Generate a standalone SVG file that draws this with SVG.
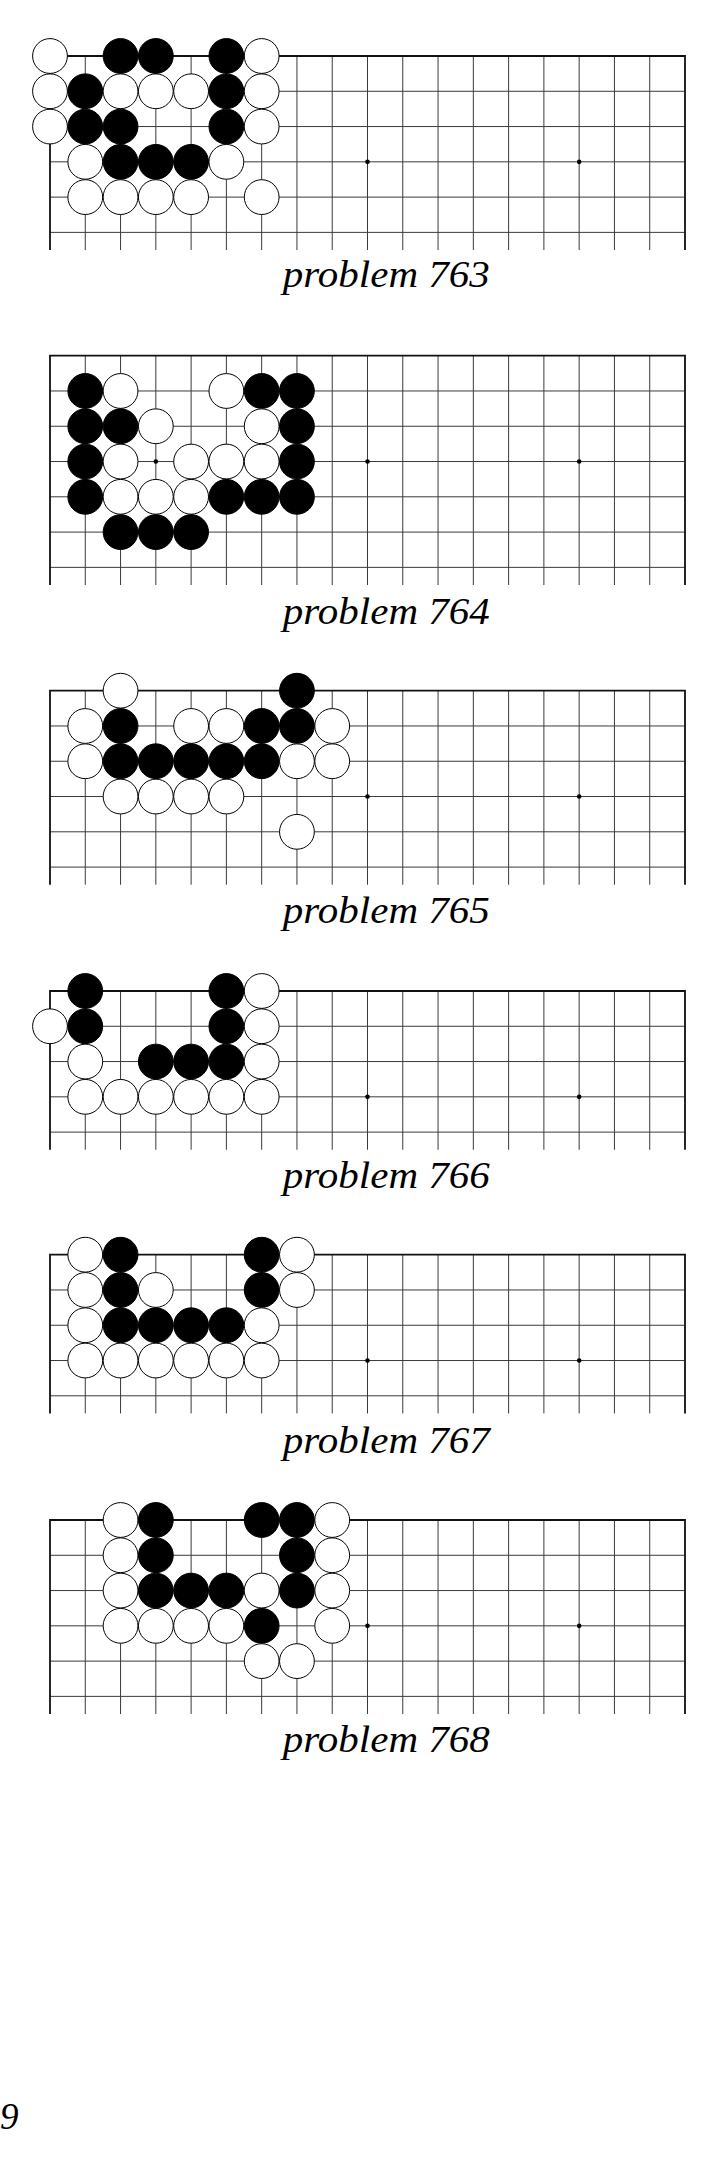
<svg xmlns="http://www.w3.org/2000/svg" xmlns:xlink="http://www.w3.org/1999/xlink" width="725" height="2181" viewBox="0 0 725 2181">
<style>
.gl{stroke:#3a3a3a;stroke-width:1;fill:none}
.ed{stroke:#111;stroke-width:1.8;fill:none}
.w{fill:#fff;stroke:#000;stroke-width:1}
.b{fill:#000;stroke:#000;stroke-width:1}
.h{fill:#000}
.cap{font-family:"Liberation Serif",serif;font-style:italic;font-size:37px;fill:#000}
.pg{font-family:"Liberation Serif",serif;font-style:italic;font-size:37px;fill:#000}
</style>
<defs>
<g id="vl">
<path d="M35.28 0V1M70.56 0V1M105.83 0V1M141.11 0V1M176.39 0V1M211.67 0V1M246.94 0V1M282.22 0V1M317.5 0V1M352.78 0V1M388.06 0V1M423.33 0V1M458.61 0V1M493.89 0V1M529.17 0V1M564.44 0V1M599.72 0V1" class="gl" vector-effect="non-scaling-stroke"/>
</g>
<g id="hoshi">
<circle class="h" cx="105.83" cy="105.83" r="2.3"/>
<circle class="h" cx="317.5" cy="105.83" r="2.3"/>
<circle class="h" cx="529.17" cy="105.83" r="2.3"/>
</g>
<g id="grid5">
<path class="gl" d="M0 35.28H635M0 70.56H635M0 105.83H635M0 141.11H635"/>
<use xlink:href="#vl" transform="scale(1,158.75)"/>
<path class="ed" d="M0 158.75V0H635V158.75"/>
<use xlink:href="#hoshi"/>
</g>
<g id="grid6">
<path class="gl" d="M0 35.28H635M0 70.56H635M0 105.83H635M0 141.11H635M0 176.39H635"/>
<use xlink:href="#vl" transform="scale(1,194.03)"/>
<path class="ed" d="M0 194.03V0H635V194.03"/>
<use xlink:href="#hoshi"/>
</g>
<g id="grid7">
<path class="gl" d="M0 35.28H635M0 70.56H635M0 105.83H635M0 141.11H635M0 176.39H635M0 211.67H635"/>
<use xlink:href="#vl" transform="scale(1,229.31)"/>
<path class="ed" d="M0 229.31V0H635V229.31"/>
<use xlink:href="#hoshi"/>
</g>
</defs>
<rect width="725" height="2181" fill="#fff"/>

<g id="problem763" transform="translate(50,56)">
<use xlink:href="#grid6"/>
<g id="stones763">
<circle class="w" cx="0" cy="0" r="17.4"/><circle class="b" cx="70.56" cy="0" r="17.4"/><circle class="b" cx="105.83" cy="0" r="17.4"/><circle class="b" cx="176.39" cy="0" r="17.4"/><circle class="w" cx="211.67" cy="0" r="17.4"/>
<circle class="w" cx="0" cy="35.28" r="17.4"/><circle class="b" cx="35.28" cy="35.28" r="17.4"/><circle class="w" cx="70.56" cy="35.28" r="17.4"/><circle class="w" cx="105.83" cy="35.28" r="17.4"/><circle class="w" cx="141.11" cy="35.28" r="17.4"/><circle class="b" cx="176.39" cy="35.28" r="17.4"/><circle class="w" cx="211.67" cy="35.28" r="17.4"/>
<circle class="w" cx="0" cy="70.56" r="17.4"/><circle class="b" cx="35.28" cy="70.56" r="17.4"/><circle class="b" cx="70.56" cy="70.56" r="17.4"/><circle class="b" cx="176.39" cy="70.56" r="17.4"/><circle class="w" cx="211.67" cy="70.56" r="17.4"/>
<circle class="w" cx="35.28" cy="105.83" r="17.4"/><circle class="b" cx="70.56" cy="105.83" r="17.4"/><circle class="b" cx="105.83" cy="105.83" r="17.4"/><circle class="b" cx="141.11" cy="105.83" r="17.4"/><circle class="w" cx="176.39" cy="105.83" r="17.4"/>
<circle class="w" cx="35.28" cy="141.11" r="17.4"/><circle class="w" cx="70.56" cy="141.11" r="17.4"/><circle class="w" cx="105.83" cy="141.11" r="17.4"/><circle class="w" cx="141.11" cy="141.11" r="17.4"/><circle class="w" cx="211.67" cy="141.11" r="17.4"/>
</g>
</g>
<text class="cap" x="386.3" y="287" text-anchor="middle" textLength="207" lengthAdjust="spacingAndGlyphs">problem 763</text>

<g id="problem764" transform="translate(50,355.7)">
<use xlink:href="#grid7"/>
<g id="stones764">
<circle class="b" cx="35.28" cy="35.28" r="17.4"/><circle class="w" cx="70.56" cy="35.28" r="17.4"/><circle class="w" cx="176.39" cy="35.28" r="17.4"/><circle class="b" cx="211.67" cy="35.28" r="17.4"/><circle class="b" cx="246.94" cy="35.28" r="17.4"/>
<circle class="b" cx="35.28" cy="70.56" r="17.4"/><circle class="b" cx="70.56" cy="70.56" r="17.4"/><circle class="w" cx="105.83" cy="70.56" r="17.4"/><circle class="w" cx="211.67" cy="70.56" r="17.4"/><circle class="b" cx="246.94" cy="70.56" r="17.4"/>
<circle class="b" cx="35.28" cy="105.83" r="17.4"/><circle class="w" cx="70.56" cy="105.83" r="17.4"/><circle class="w" cx="141.11" cy="105.83" r="17.4"/><circle class="w" cx="176.39" cy="105.83" r="17.4"/><circle class="w" cx="211.67" cy="105.83" r="17.4"/><circle class="b" cx="246.94" cy="105.83" r="17.4"/>
<circle class="b" cx="35.28" cy="141.11" r="17.4"/><circle class="w" cx="70.56" cy="141.11" r="17.4"/><circle class="w" cx="105.83" cy="141.11" r="17.4"/><circle class="w" cx="141.11" cy="141.11" r="17.4"/><circle class="b" cx="176.39" cy="141.11" r="17.4"/><circle class="b" cx="211.67" cy="141.11" r="17.4"/><circle class="b" cx="246.94" cy="141.11" r="17.4"/>
<circle class="b" cx="70.56" cy="176.39" r="17.4"/><circle class="b" cx="105.83" cy="176.39" r="17.4"/><circle class="b" cx="141.11" cy="176.39" r="17.4"/>
</g>
</g>
<text class="cap" x="386.3" y="624" text-anchor="middle" textLength="207" lengthAdjust="spacingAndGlyphs">problem 764</text>

<g id="problem765" transform="translate(50,690.7)">
<use xlink:href="#grid6"/>
<g id="stones765">
<circle class="w" cx="70.56" cy="0" r="17.4"/><circle class="b" cx="246.94" cy="0" r="17.4"/>
<circle class="w" cx="35.28" cy="35.28" r="17.4"/><circle class="b" cx="70.56" cy="35.28" r="17.4"/><circle class="w" cx="141.11" cy="35.28" r="17.4"/><circle class="w" cx="176.39" cy="35.28" r="17.4"/><circle class="b" cx="211.67" cy="35.28" r="17.4"/><circle class="b" cx="246.94" cy="35.28" r="17.4"/><circle class="w" cx="282.22" cy="35.28" r="17.4"/>
<circle class="w" cx="35.28" cy="70.56" r="17.4"/><circle class="b" cx="70.56" cy="70.56" r="17.4"/><circle class="b" cx="105.83" cy="70.56" r="17.4"/><circle class="b" cx="141.11" cy="70.56" r="17.4"/><circle class="b" cx="176.39" cy="70.56" r="17.4"/><circle class="b" cx="211.67" cy="70.56" r="17.4"/><circle class="w" cx="246.94" cy="70.56" r="17.4"/><circle class="w" cx="282.22" cy="70.56" r="17.4"/>
<circle class="w" cx="70.56" cy="105.83" r="17.4"/><circle class="w" cx="105.83" cy="105.83" r="17.4"/><circle class="w" cx="141.11" cy="105.83" r="17.4"/><circle class="w" cx="176.39" cy="105.83" r="17.4"/>
<circle class="w" cx="246.94" cy="141.11" r="17.4"/>
</g>
</g>
<text class="cap" x="386.3" y="923" text-anchor="middle" textLength="207" lengthAdjust="spacingAndGlyphs">problem 765</text>

<g id="problem766" transform="translate(50,991)">
<use xlink:href="#grid5"/>
<g id="stones766">
<circle class="b" cx="35.28" cy="0" r="17.4"/><circle class="b" cx="176.39" cy="0" r="17.4"/><circle class="w" cx="211.67" cy="0" r="17.4"/>
<circle class="w" cx="0" cy="35.28" r="17.4"/><circle class="b" cx="35.28" cy="35.28" r="17.4"/><circle class="b" cx="176.39" cy="35.28" r="17.4"/><circle class="w" cx="211.67" cy="35.28" r="17.4"/>
<circle class="w" cx="35.28" cy="70.56" r="17.4"/><circle class="b" cx="105.83" cy="70.56" r="17.4"/><circle class="b" cx="141.11" cy="70.56" r="17.4"/><circle class="b" cx="176.39" cy="70.56" r="17.4"/><circle class="w" cx="211.67" cy="70.56" r="17.4"/>
<circle class="w" cx="35.28" cy="105.83" r="17.4"/><circle class="w" cx="70.56" cy="105.83" r="17.4"/><circle class="w" cx="105.83" cy="105.83" r="17.4"/><circle class="w" cx="141.11" cy="105.83" r="17.4"/><circle class="w" cx="176.39" cy="105.83" r="17.4"/><circle class="w" cx="211.67" cy="105.83" r="17.4"/>
</g>
</g>
<text class="cap" x="386.3" y="1188" text-anchor="middle" textLength="207" lengthAdjust="spacingAndGlyphs">problem 766</text>

<g id="problem767" transform="translate(50,1254.7)">
<use xlink:href="#grid5"/>
<g id="stones767">
<circle class="w" cx="35.28" cy="0" r="17.4"/><circle class="b" cx="70.56" cy="0" r="17.4"/><circle class="b" cx="211.67" cy="0" r="17.4"/><circle class="w" cx="246.94" cy="0" r="17.4"/>
<circle class="w" cx="35.28" cy="35.28" r="17.4"/><circle class="b" cx="70.56" cy="35.28" r="17.4"/><circle class="w" cx="105.83" cy="35.28" r="17.4"/><circle class="b" cx="211.67" cy="35.28" r="17.4"/><circle class="w" cx="246.94" cy="35.28" r="17.4"/>
<circle class="w" cx="35.28" cy="70.56" r="17.4"/><circle class="b" cx="70.56" cy="70.56" r="17.4"/><circle class="b" cx="105.83" cy="70.56" r="17.4"/><circle class="b" cx="141.11" cy="70.56" r="17.4"/><circle class="b" cx="176.39" cy="70.56" r="17.4"/><circle class="w" cx="211.67" cy="70.56" r="17.4"/>
<circle class="w" cx="35.28" cy="105.83" r="17.4"/><circle class="w" cx="70.56" cy="105.83" r="17.4"/><circle class="w" cx="105.83" cy="105.83" r="17.4"/><circle class="w" cx="141.11" cy="105.83" r="17.4"/><circle class="w" cx="176.39" cy="105.83" r="17.4"/><circle class="w" cx="211.67" cy="105.83" r="17.4"/>
</g>
</g>
<text class="cap" x="386.3" y="1453" text-anchor="middle" textLength="207" lengthAdjust="spacingAndGlyphs">problem 767</text>

<g id="problem768" transform="translate(50,1520)">
<use xlink:href="#grid6"/>
<g id="stones768">
<circle class="w" cx="70.56" cy="0" r="17.4"/><circle class="b" cx="105.83" cy="0" r="17.4"/><circle class="b" cx="211.67" cy="0" r="17.4"/><circle class="b" cx="246.94" cy="0" r="17.4"/><circle class="w" cx="282.22" cy="0" r="17.4"/>
<circle class="w" cx="70.56" cy="35.28" r="17.4"/><circle class="b" cx="105.83" cy="35.28" r="17.4"/><circle class="b" cx="246.94" cy="35.28" r="17.4"/><circle class="w" cx="282.22" cy="35.28" r="17.4"/>
<circle class="w" cx="70.56" cy="70.56" r="17.4"/><circle class="b" cx="105.83" cy="70.56" r="17.4"/><circle class="b" cx="141.11" cy="70.56" r="17.4"/><circle class="b" cx="176.39" cy="70.56" r="17.4"/><circle class="w" cx="211.67" cy="70.56" r="17.4"/><circle class="b" cx="246.94" cy="70.56" r="17.4"/><circle class="w" cx="282.22" cy="70.56" r="17.4"/>
<circle class="w" cx="70.56" cy="105.83" r="17.4"/><circle class="w" cx="105.83" cy="105.83" r="17.4"/><circle class="w" cx="141.11" cy="105.83" r="17.4"/><circle class="w" cx="176.39" cy="105.83" r="17.4"/><circle class="b" cx="211.67" cy="105.83" r="17.4"/><circle class="w" cx="282.22" cy="105.83" r="17.4"/>
<circle class="w" cx="211.67" cy="141.11" r="17.4"/><circle class="w" cx="246.94" cy="141.11" r="17.4"/>
</g>
</g>
<text class="cap" x="386.3" y="1752" text-anchor="middle" textLength="207" lengthAdjust="spacingAndGlyphs">problem 768</text>

<text class="pg" x="0" y="2129">9</text>
</svg>
